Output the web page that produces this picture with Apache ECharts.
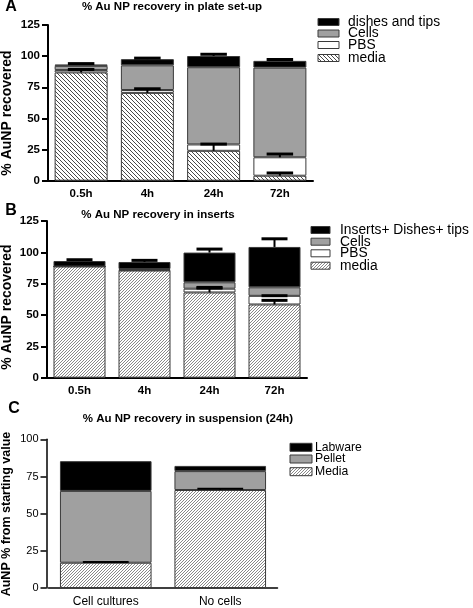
<!DOCTYPE html>
<html>
<head>
<meta charset="utf-8">
<script src="https://cdn.jsdelivr.net/npm/echarts@6/dist/echarts.min.js"></script>
<style>
html,body{margin:0;padding:0;background:#fff;}
#chart{width:473px;height:608px;}
</style>
</head>
<body>
<div id="chart"></div>
<script>
// ---------- DATA ----------
// Panel A: % Au NP recovery in plate set-up
const catsA = ['0.5h', '4h', '24h', '72h'];
const mediaA = [86.9, 70.5, 24.0, 4.0];
const pbsA = [1.9, 2.3, 5.1, 14.8];
const cellsA = [3.4, 19.8, 62.0, 72.0];
const dishesA = [1.1, 5.0, 9.0, 5.4];
// error bars: [category index, from, to]
const errA = [
  [0, 93.3, 94.0], [1, 97.6, 98.4], [2, 100.1, 101.5], [3, 96.2, 97.3],
  [0, 86.9, 89.3], [1, 70.5, 73.8], [2, 24.0, 29.4], [3, 18.8, 21.4], [3, 4.0, 6.2]
];
const legendA = ['dishes and tips', 'Cells', 'PBS', 'media'];

// Panel B: % Au NP recovery in inserts
const catsB = ['0.5h', '4h', '24h', '72h'];
const mediaB = [88.7, 85.5, 68.0, 58.4];
const pbsB = [0, 0.4, 3.0, 6.9];
const cellsB = [0, 0.8, 5.1, 6.8];
const dishesB = [4.4, 5.6, 23.7, 32.2];
const errB = [
  [0, 93.1, 94.1], [1, 92.3, 93.6], [2, 99.8, 102.6], [3, 104.3, 110.8],
  [2, 68.0, 71.5], [2, 71.0, 72.0], [3, 58.4, 61.7], [3, 65.0, 65.4]
];
const legendB = ['Inserts+ Dishes+ tips', 'Cells', 'PBS', 'media'];

// Panel C: % Au NP recovery in suspension (24h)
const catsC = ['Cell cultures', 'No cells'];
const mediaC = [17.0, 65.9];
const pelletC = [48.3, 12.7];
const labwareC = [20.0, 3.5];
const errC = [[0, 17.0, 17.5], [1, 65.9, 66.7]];
const legendC = ['Labware', 'Pellet', 'Media'];

const yTicksAB = [0, 125, 25];
const yTicksC = [0, 100, 25];

// ---------- STYLE HELPERS ----------
const FONT = 'Liberation Sans, Arial, sans-serif';
const GRAY = '#a0a0a0';
const EDGE = '#3a3a3a';

function hatch(dir, size, color, lw) {
  const c = document.createElement('canvas');
  c.width = size; c.height = size;
  const g = c.getContext('2d');
  g.fillStyle = '#fff'; g.fillRect(0, 0, size, size);
  g.strokeStyle = color; g.lineWidth = lw;
  for (let k = -1; k <= 1; k++) {
    g.beginPath();
    if (dir === 'back') { g.moveTo(k * size, 0); g.lineTo(k * size + size, size); }
    else { g.moveTo(k * size, size); g.lineTo(k * size + size, 0); }
    g.stroke();
  }
  return c;
}
const patA = { image: hatch('back', 4, '#4a4a4a', 1), repeat: 'repeat' };
const patB = { image: hatch('fwd', 3, '#6a6a6a', 0.8), repeat: 'repeat' };

function barSeries(name, data, idx, stack, fill) {
  return {
    type: 'bar', name: name, data: data, stack: stack,
    xAxisIndex: idx, yAxisIndex: idx, barCategoryGap: '20%',
    itemStyle: { color: fill, borderColor: EDGE, borderWidth: 1 },
    emphasis: { disabled: true }, animation: false
  };
}
function errSeries(data, idx, capW, stemW) {
  return {
    type: 'custom', data: data, xAxisIndex: idx, yAxisIndex: idx, z: 10,
    encode: { x: 0, y: [1, 2] }, clip: false, animation: false,
    renderItem: function (params, api) {
      const x = api.value(0);
      const lo = api.coord([x, api.value(1)]);
      const hi = api.coord([x, api.value(2)]);
      const half = api.size([1, 0])[0] * 0.8 * 0.25;
      return {
        type: 'group', children: [
          { type: 'line', shape: { x1: lo[0], y1: lo[1], x2: hi[0], y2: hi[1] }, style: { stroke: '#000', lineWidth: stemW } },
          { type: 'line', shape: { x1: hi[0] - half, y1: hi[1], x2: hi[0] + half, y2: hi[1] }, style: { stroke: '#000', lineWidth: capW } }
        ]
      };
    }
  };
}
function xAxisDef(idx, cats, bold, size, lw, margin) {
  return {
    type: 'category', gridIndex: idx, data: cats,
    axisLine: { lineStyle: { color: '#000', width: lw } },
    axisTick: { alignWithLabel: true, length: 4, lineStyle: { color: '#000', width: 1.5 } },
    axisLabel: { color: '#000', fontFamily: FONT, fontWeight: bold ? 'bold' : 'normal', fontSize: size, margin: margin }
  };
}
function yAxisDef(idx, t, bold, size, lw, off) {
  return {
    type: 'value', gridIndex: idx, min: t[0], max: t[1], interval: t[2], offset: off || 0,
    splitLine: { show: false },
    axisLine: { show: true, lineStyle: { color: '#000', width: lw } },
    axisTick: { show: true, length: 6, lineStyle: { color: '#000', width: lw } },
    axisLabel: { color: '#000', fontFamily: FONT, fontWeight: bold ? 'bold' : 'normal', fontSize: size, margin: 8 }
  };
}
function txt(x, y, s, size, bold, opts) {
  opts = opts || {};
  return {
    type: 'text', x: x, y: y, rotation: opts.rot || 0, z: 20,
    style: {
      text: s, fill: '#000', font: (bold ? 'bold ' : '') + size + 'px ' + FONT,
      textAlign: opts.align || 'left', textVerticalAlign: 'middle'
    }
  };
}
function legend(x0, w, h, tx, rows, names, fills, size) {
  const els = [];
  names.forEach(function (n, i) {
    els.push({ type: 'rect', shape: { x: x0, y: rows[i] - h / 2, width: w, height: h }, z: 20,
      style: { fill: fills[i], stroke: EDGE, lineWidth: 1 } });
    els.push(txt(tx, rows[i], n, size, false));
  });
  return els;
}

const graphics = [].concat(
  [txt(11, 7, 'A', 16, true, { align: 'center' }),
   txt(11, 211, 'B', 16, true, { align: 'center' }),
   txt(14, 409, 'C', 16, true, { align: 'center' }),
   txt(172, 7, '% Au NP recovery in plate set-up', 11.5, true, { align: 'center' }),
   txt(158, 214.5, '% Au NP recovery in inserts', 11.5, true, { align: 'center' }),
   txt(188, 419, '% Au NP recovery in suspension (24h)', 11.5, true, { align: 'center' }),
   txt(7, 113, '% AuNP recovered', 14, true, { align: 'center', rot: Math.PI / 2 }),
   txt(7, 307, '% AuNP recovered', 14, true, { align: 'center', rot: Math.PI / 2 }),
   txt(7, 514, 'AuNP % from starting value', 12.5, true, { align: 'center', rot: Math.PI / 2 })],
  legend(318, 21, 7, 348, [22, 33.5, 45, 58], legendA, ['#000', GRAY, '#fff', patA], 13.8),
  legend(311, 19, 7, 340, [230, 241.7, 253.3, 265.7], legendB, ['#000', GRAY, '#fff', patB], 13.8),
  legend(290, 22, 8, 315, [447.3, 459, 471.7], legendC, ['#000', GRAY, patB], 12.2)
);

const option = {
  animation: false,
  grid: [
    { left: 48, top: 25, width: 265, height: 155.7 },
    { left: 47, top: 221, width: 260, height: 156.7 },
    { left: 48.5, top: 439.3, width: 229, height: 152.7 }
  ],
  xAxis: [
    xAxisDef(0, catsA, true, 11.5, 2, 7),
    xAxisDef(1, catsB, true, 11.5, 2, 7),
    xAxisDef(2, catsC, false, 12, 1.5, 8)
  ],
  yAxis: [
    yAxisDef(0, yTicksAB, true, 11.5, 2),
    yAxisDef(1, yTicksAB, true, 11.5, 2),
    yAxisDef(2, yTicksC, false, 11, 1.5, 2)
  ],
  series: [
    barSeries('media', mediaA, 0, 'A', patA),
    barSeries('PBS', pbsA, 0, 'A', '#fff'),
    barSeries('Cells', cellsA, 0, 'A', GRAY),
    barSeries('dishes and tips', dishesA, 0, 'A', '#000'),
    errSeries(errA, 0, 3, 2),
    barSeries('media', mediaB, 1, 'B', patB),
    barSeries('PBS', pbsB, 1, 'B', '#fff'),
    barSeries('Cells', cellsB, 1, 'B', GRAY),
    barSeries('Inserts+ Dishes+ tips', dishesB, 1, 'B', '#000'),
    errSeries(errB, 1, 3, 2),
    barSeries('Media', mediaC, 2, 'C', patB),
    barSeries('Pellet', pelletC, 2, 'C', GRAY),
    barSeries('Labware', labwareC, 2, 'C', '#000'),
    errSeries(errC, 2, 2, 1.5)
  ],
  graphic: graphics
};

const chart = echarts.init(document.getElementById('chart'), null, { renderer: 'canvas' });
chart.setOption(option);
</script>
</body>
</html>
